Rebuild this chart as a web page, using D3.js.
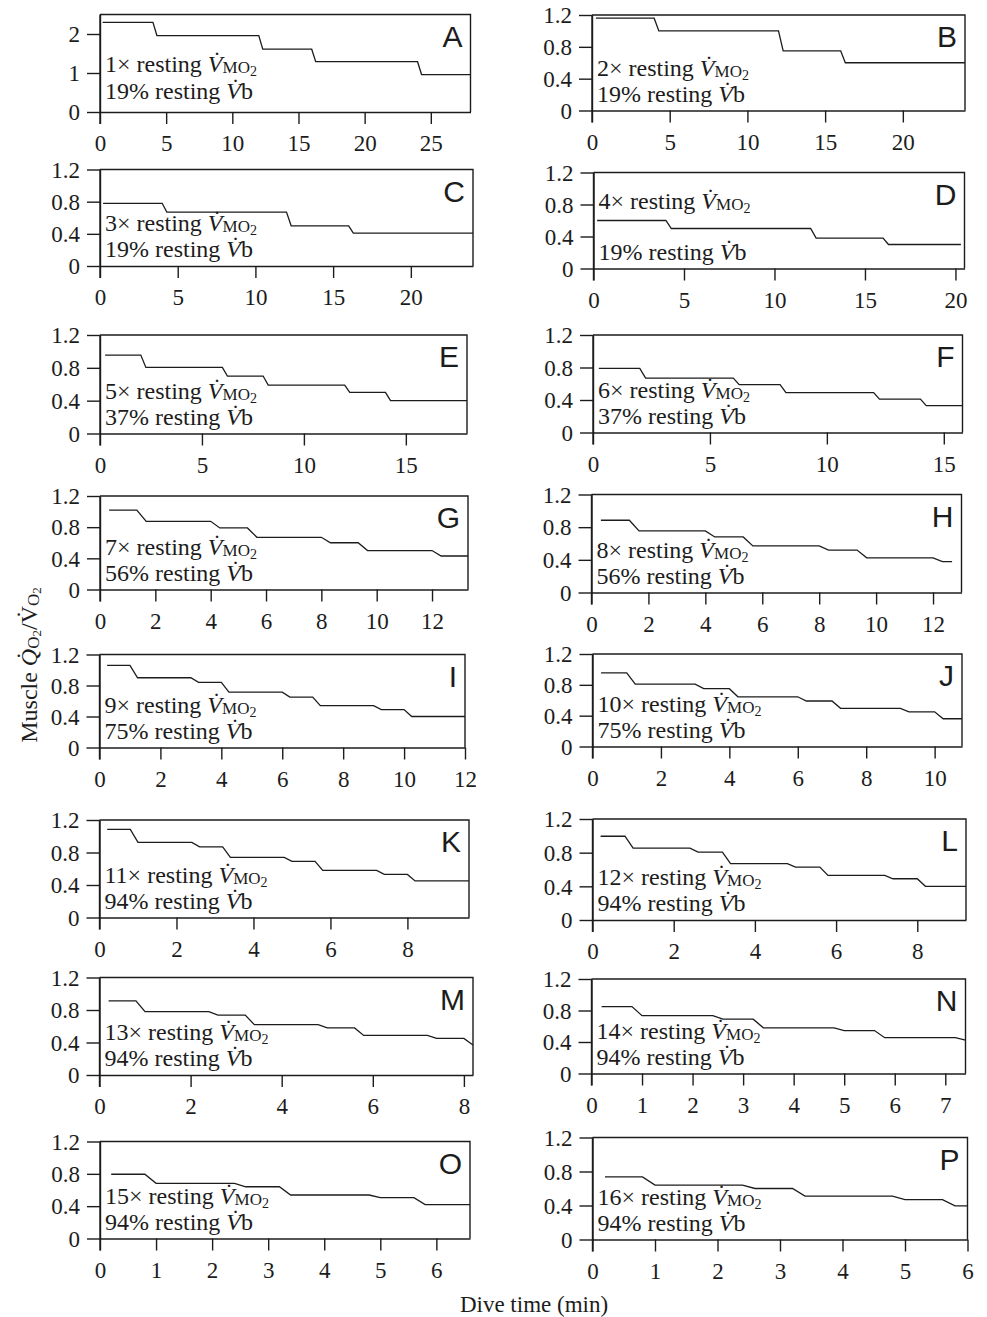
<!DOCTYPE html>
<html><head><meta charset="utf-8">
<script src="https://cdn.jsdelivr.net/npm/d3@7"></script>
<style>body{margin:0;background:#fff}</style>
</head><body>
<svg id="chart" width="987" height="1317"></svg>
<script>
// ---------- DATA ----------
const panelIds   = ["A","B","C","D","E","F","G","H","I","J","K","L","M","N","O","P"];
const vmoMultiple = [1,2,3,4,5,6,7,8,9,10,11,12,13,14,15,16];
const vbPercent   = [19,19,19,19,37,37,56,56,75,75,94,94,94,94,94,94];
const xMax        = [28,24,24,20.5,18,15.8,13.3,13,12,10.8,9.6,9.2,8.2,7.4,6.6,6];
const xTickStep   = [5,5,5,5,5,5,2,2,2,2,2,2,2,1,1,1];
const yMax        = [2.5,1.2,1.2,1.2,1.2,1.2,1.2,1.2,1.2,1.2,1.2,1.2,1.2,1.2,1.2,1.2];
const yTicksA     = [0,1,2];
const yTicksOther = [0,0.4,0.8,1.2];

// muscle QO2/VO2 level of each step
const levels = [
  [2.30,1.96,1.61,1.29,0.96],
  [1.16,1.00,0.75,0.60],
  [0.78,0.67,0.50,0.41],
  [0.60,0.50,0.38,0.30],
  [0.955,0.805,0.70,0.59,0.50,0.40],
  [0.79,0.67,0.59,0.49,0.41,0.33],
  [1.02,0.875,0.79,0.67,0.60,0.50,0.43],
  [0.885,0.755,0.68,0.57,0.52,0.425,0.377],
  [1.06,0.90,0.84,0.715,0.65,0.54,0.49,0.40],
  [0.955,0.81,0.75,0.645,0.59,0.495,0.45,0.36],
  [1.085,0.925,0.87,0.74,0.69,0.58,0.53,0.45],
  [0.995,0.853,0.806,0.67,0.628,0.53,0.49,0.40],
  [0.913,0.78,0.737,0.62,0.58,0.487,0.45,0.37],
  [0.85,0.735,0.69,0.58,0.545,0.455,0.425],
  [0.795,0.683,0.64,0.538,0.505,0.42],
  [0.737,0.64,0.60,0.51,0.47,0.395]
];
// dive time (min) where each step starts / ends
const stepStarts = [
  [0.2,4.3,12.3,16.3,24.3],
  [0.25,4.3,12.3,16.3],
  [0.2,4.3,12.3,16.3],
  [0.2,4.3,12.3,16.3],
  [0.25,2.25,6.25,8.25,12.25,14.25],
  [0.25,2.25,6.25,8.25,12.25,14.25],
  [0.33,1.67,4.33,5.67,8.33,9.67,12.33],
  [0.33,1.67,4.33,5.67,8.33,9.67,12.33],
  [0.25,1.25,3.25,4.25,6.25,7.25,9.25,10.25],
  [0.25,1.25,3.25,4.25,6.25,7.25,9.25,10.25],
  [0.2,1.0,2.6,3.4,5.0,5.8,7.4,8.2],
  [0.2,1.0,2.6,3.4,5.0,5.8,7.4,8.2],
  [0.2,1.0,2.6,3.4,5.0,5.8,7.4,8.2],
  [0.2,1.0,2.6,3.4,5.0,5.8,7.4],
  [0.2,1.0,2.6,3.4,5.0,5.8],
  [0.2,1.0,2.6,3.4,5.0,5.8]
];
const stepEnds = [
  [4.0,12.0,16.0,24.0,28.0],
  [4.0,12.0,16.0,24.0],
  [4.0,12.0,16.0,24.0],
  [4.0,12.0,16.0,20.3],
  [2.0,6.0,8.0,12.0,14.0,18.0],
  [2.0,6.0,8.0,12.0,14.0,15.8],
  [1.33,4.0,5.33,8.0,9.33,12.0,13.3],
  [1.33,4.0,5.33,8.0,9.33,12.0,12.67],
  [1.0,3.0,4.0,6.0,7.0,9.0,10.0,12.0],
  [1.0,3.0,4.0,6.0,7.0,9.0,10.0,10.8],
  [0.8,2.4,3.2,4.8,5.6,7.2,8.0,9.6],
  [0.8,2.4,3.2,4.8,5.6,7.2,8.0,9.2],
  [0.8,2.4,3.2,4.8,5.6,7.2,8.0,8.2],
  [0.8,2.4,3.2,4.8,5.6,7.2,7.4],
  [0.8,2.4,3.2,4.8,5.6,6.6],
  [0.8,2.4,3.2,4.8,5.6,6.0]
];

// ---------- LAYOUT ----------
const frames = [
  [100,14.5,470.5,112],[592,15,965,110.5],
  [100,169.5,473,266],[593.5,172.5,964.5,268.5],
  [100,335,467,433.5],[593,335,962.5,432.5],
  [100,496,468,589.5],[591.5,494.5,961.5,592.5],
  [99.5,654.5,465,747.5],[592.5,654,962,746.5],
  [99.5,820,469,917.5],[592.5,819,966,920],
  [99.5,977.5,473,1075],[591.5,979,965.5,1073.5],
  [100,1141.5,470,1238.5],[592.5,1137.5,967.5,1239.5]
];
const SERIF = "'Liberation Serif','Times New Roman',serif";
const SANS  = "'Liberation Sans',Arial,sans-serif";
const INK = "#1c1c1c";

const svg = d3.select("#chart");

panelIds.forEach((id, i) => {
  const [x0, y0, x1, y1] = frames[i];
  const x = d3.scaleLinear().domain([0, xMax[i]]).range([x0, x1]);
  const y = d3.scaleLinear().domain([0, yMax[i]]).range([y1, y0]);
  const g = svg.append("g");

  // frame top + right
  g.append("path")
    .attr("d", `M${x0},${y0}H${x1}V${y1}`)
    .attr("fill", "none").attr("stroke", INK).attr("stroke-width", 1.4);

  const xt = d3.range(0, xMax[i] + 1e-9, xTickStep[i]);
  const xa = g.append("g").attr("transform", `translate(0,${y1})`)
    .call(d3.axisBottom(x).tickValues(xt).tickSize(12).tickSizeOuter(0).tickFormat(d3.format("d")));
  xa.selectAll("text").attr("y", 39).attr("dy", null)
    .attr("font-family", SERIF).attr("font-size", 23).attr("fill", INK);

  const yt = i === 0 ? yTicksA : yTicksOther;
  const ya = g.append("g").attr("transform", `translate(${x0},0)`)
    .call(d3.axisLeft(y).tickValues(yt).tickSize(13).tickSizeOuter(0).tickPadding(7)
      .tickFormat(d => String(+d.toFixed(1))));
  ya.selectAll("text").attr("dy", "0.34em")
    .attr("font-family", SERIF).attr("font-size", 23).attr("fill", INK);

  [xa, ya].forEach(a => {
    a.select(".domain").attr("stroke", INK).attr("stroke-width", 1.4);
    a.selectAll(".tick line").attr("stroke", INK).attr("stroke-width", 1.4);
  });
  // left axis line closes frame and continues as the 0 tick
  g.append("line").attr("x1", x0).attr("x2", x0).attr("y1", y0).attr("y2", y1 + 12)
    .attr("stroke", INK).attr("stroke-width", 1.4);

  // step line
  const pts = [];
  levels[i].forEach((v, k) => {
    pts.push([stepStarts[i][k], v]);
    pts.push([stepEnds[i][k], v]);
  });
  g.append("path")
    .attr("d", d3.line().x(d => x(d[0])).y(d => y(d[1]))(pts))
    .attr("fill", "none").attr("stroke", INK).attr("stroke-width", 1.3);

  // panel letter
  g.append("text").attr("x", x1 - 8).attr("y", y0 + 32)
    .attr("text-anchor", "end").attr("font-family", SANS).attr("font-size", 30)
    .attr("fill", INK).text(id);

  // annotation
  let l1 = y1 - 35, l2 = y1 - 9;
  if (id === "A") { l1 = y1 - 40; l2 = y1 - 13; }
  if (id === "D") { l1 = y0 + 36; }
  const tx = x0 + 5;
  const t1 = g.append("text").attr("x", tx).attr("y", l1)
    .attr("font-family", SERIF).attr("font-size", 24).attr("fill", INK);
  t1.append("tspan").text(`${vmoMultiple[i]}\u00d7 resting `);
  t1.append("tspan").attr("font-style", "italic").text("V\u0307");
  t1.append("tspan").attr("font-size", "17").attr("dy", 1).text("MO");
  t1.append("tspan").attr("font-size", "14").attr("dy", 3).text("2");

  const t2 = g.append("text").attr("x", tx).attr("y", l2)
    .attr("font-family", SERIF).attr("font-size", 24).attr("fill", INK);
  t2.append("tspan").text(`${vbPercent[i]}% resting `);
  t2.append("tspan").attr("font-style", "italic").text("V\u0307");
  t2.append("tspan").text("b");
});

// y axis title
const ytl = svg.append("text")
  .attr("transform", "translate(37,665) rotate(-90)")
  .attr("text-anchor", "middle").attr("font-family", SERIF).attr("font-size", 24).attr("fill", INK);
ytl.append("tspan").text("Muscle ");
ytl.append("tspan").attr("font-style", "italic").text("Q\u0307");
ytl.append("tspan").attr("font-size", 17).attr("dy", 2).text("O");
ytl.append("tspan").attr("font-size", 13).attr("dy", 2).text("2");
ytl.append("tspan").attr("dy", -4).text("/V\u0307");
ytl.append("tspan").attr("font-size", 17).attr("dy", 2).text("O");
ytl.append("tspan").attr("font-size", 13).attr("dy", 2).text("2");

// x axis title
svg.append("text").attr("x", 534).attr("y", 1312)
  .attr("text-anchor", "middle").attr("font-family", SERIF).attr("font-size", 23).attr("fill", INK)
  .text("Dive time (min)");
</script>
</body></html>
